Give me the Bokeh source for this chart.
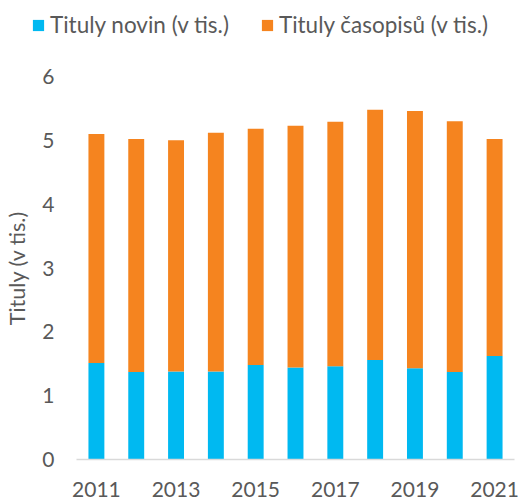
from bokeh.plotting import figure
from bokeh.models import ColumnDataSource, Legend, LegendItem, FixedTicker, Range1d
from bokeh.embed import file_html
from bokeh.resources import INLINE

years = [2011, 2012, 2013, 2014, 2015, 2016, 2017, 2018, 2019, 2020, 2021]
noviny = [1.51, 1.37, 1.38, 1.38, 1.48, 1.44, 1.46, 1.56, 1.43, 1.37, 1.62]
casopisy = [3.59, 3.65, 3.62, 3.74, 3.70, 3.79, 3.83, 3.92, 4.03, 3.93, 3.40]
series_labels = ["Tituly novin (v tis.)", "Tituly časopisů (v tis.)"]
colors = ["#00B9F1", "#F5841F"]
y_label = "Tituly (v tis.)"
x_ticks = [2011, 2013, 2015, 2017, 2019, 2021]
y_ticks = [0, 1, 2, 3, 4, 5, 6]

FONT = "Lato"
TXT = "#595959"

source = ColumnDataSource(data=dict(year=years, noviny=noviny, casopisy=casopisy))

# --- legend strip (its own figure, frame spans the full width) ---
LH = 56
pl = figure(width=520, height=LH, output_backend="svg", toolbar_location=None,
            x_range=Range1d(0, 1), y_range=Range1d(0, 1),
            x_axis_location=None, y_axis_location=None,
            min_border=0, min_border_left=0, min_border_right=0,
            min_border_top=0, min_border_bottom=0)
pl.outline_line_color = None
pl.grid.visible = False
# legend-only renderers, kept outside the visible range
d0 = pl.vbar(x=[5], top=[1], width=0.4, color=colors[0], line_color=None)
d1 = pl.vbar(x=[5], top=[1], width=0.4, color=colors[1], line_color=None)
legend = Legend(items=[LegendItem(label=series_labels[0], renderers=[d0]),
                       LegendItem(label=series_labels[1], renderers=[d1])],
                orientation="horizontal", location=(31, 18),
                glyph_width=14, glyph_height=14, label_standoff=5, spacing=31,
                padding=0, margin=0, border_line_color=None, background_fill_alpha=0,
                label_text_font=FONT, label_text_font_size="22.5px", label_text_color=TXT)
pl.add_layout(legend, "center")

# --- main chart ---
p = figure(width=520, height=500 - LH, output_backend="svg", toolbar_location=None,
           x_range=Range1d(2010.5, 2021.5), y_range=Range1d(0, 6),
           min_border_left=76, min_border_top=20, min_border_right=6, min_border_bottom=41)

p.vbar_stack(["noviny", "casopisy"], x="year", width=0.4, source=source,
             color=colors, line_color=None)

p.outline_line_color = None
p.xgrid.grid_line_color = None
p.ygrid.grid_line_color = None

p.xaxis.ticker = FixedTicker(ticks=x_ticks)
p.xaxis.axis_line_color = "#D9D9D9"
p.xaxis.axis_line_width = 1.5
p.xaxis.major_tick_line_color = None
p.xaxis.major_tick_out = 0
p.xaxis.major_tick_in = 0
p.xaxis.minor_tick_line_color = None
p.xaxis.major_label_text_font = FONT
p.xaxis.major_label_text_font_size = "21px"
p.xaxis.major_label_text_color = TXT
p.xaxis.major_label_standoff = 22

p.yaxis.ticker = FixedTicker(ticks=y_ticks)
p.yaxis.axis_line_color = None
p.yaxis.major_tick_line_color = None
p.yaxis.major_tick_out = 0
p.yaxis.major_tick_in = 0
p.yaxis.minor_tick_line_color = None
p.yaxis.major_label_text_font = FONT
p.yaxis.major_label_text_font_size = "21px"
p.yaxis.major_label_text_color = TXT
p.yaxis.major_label_standoff = 22
p.yaxis.axis_label = y_label
p.yaxis.axis_label_text_font = FONT
p.yaxis.axis_label_text_font_size = "21.5px"
p.yaxis.axis_label_text_font_style = "normal"
p.yaxis.axis_label_text_color = TXT
p.yaxis.axis_label_standoff = 9

open("out.html", "w").write(file_html([pl, p], INLINE))
